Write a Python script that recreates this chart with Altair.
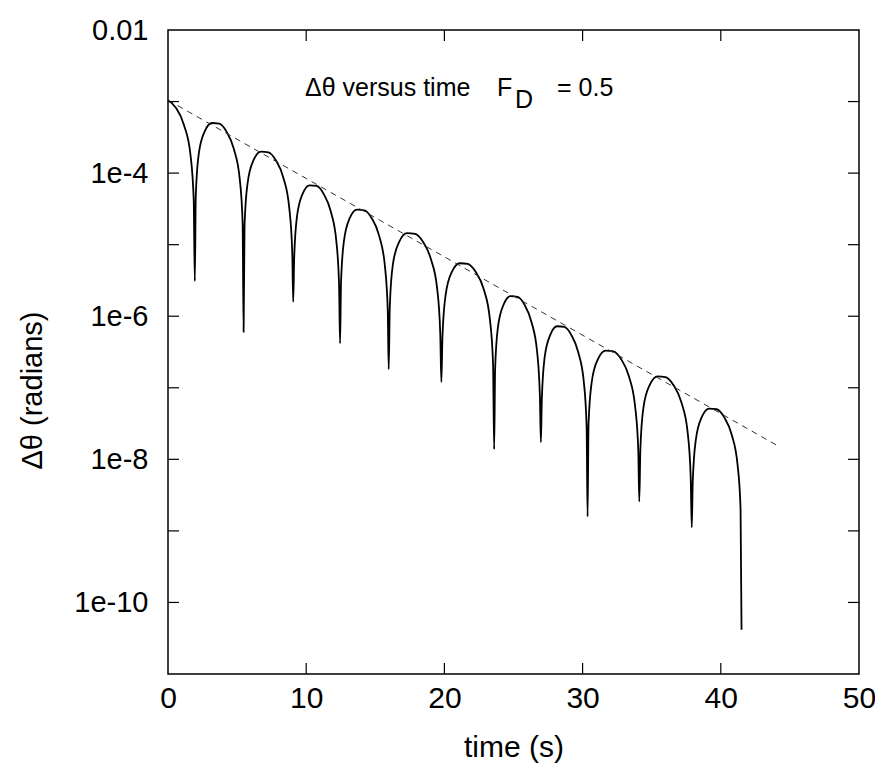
import altair as alt
import pandas as pd

# ---- data (time in s, log10 of |delta theta| in radians)
time_s = [
    0.00, 0.58, 1.16, 1.63, 1.86, 1.94,
    2.01, 2.22, 2.65, 3.18, 3.71, 4.23, 4.76, 5.19, 5.40, 5.47,
    5.54, 5.76, 6.19, 6.73, 7.27, 7.80, 8.34, 8.77, 8.99, 9.06,
    9.13, 9.33, 9.74, 10.25, 10.76, 11.26, 11.77, 12.18, 12.38, 12.45,
    12.52, 12.73, 13.15, 13.68, 14.21, 14.74, 15.27, 15.69, 15.90, 15.97,
    16.05, 16.27, 16.73, 17.30, 17.88, 18.45, 19.02, 19.48, 19.70, 19.78,
    19.86, 20.09, 20.54, 21.12, 21.69, 22.26, 22.84, 23.29, 23.52, 23.60,
    23.67, 23.87, 24.28, 24.78, 25.29, 25.80, 26.30, 26.71, 26.91, 26.98,
    27.05, 27.25, 27.66, 28.16, 28.67, 29.18, 29.68, 30.09, 30.29, 30.36,
    30.43, 30.66, 31.11, 31.67, 32.23, 32.79, 33.35, 33.80, 34.03, 34.10,
    34.18, 34.40, 34.86, 35.43, 36.00, 36.57, 37.14, 37.60, 37.82, 37.90,
    37.97, 38.19, 38.62, 39.16, 39.70, 40.24, 40.78, 41.21, 41.43, 41.50,
]
log10_dtheta = [
    -2.98, -3.09, -3.33, -3.75, -4.37, -5.51,
    -4.32, -3.74, -3.42, -3.30, -3.31, -3.42, -3.66, -4.08, -4.70, -6.22,
    -4.72, -4.14, -3.82, -3.70, -3.71, -3.82, -4.06, -4.48, -5.10, -5.80,
    -5.19, -4.61, -4.29, -4.17, -4.18, -4.29, -4.53, -4.95, -5.57, -6.38,
    -5.53, -4.95, -4.63, -4.51, -4.52, -4.63, -4.87, -5.29, -5.91, -6.74,
    -5.86, -5.28, -4.96, -4.84, -4.85, -4.96, -5.20, -5.62, -6.24, -6.92,
    -6.28, -5.70, -5.38, -5.26, -5.27, -5.38, -5.62, -6.04, -6.66, -7.86,
    -6.74, -6.16, -5.84, -5.72, -5.73, -5.84, -6.08, -6.50, -7.12, -7.76,
    -7.16, -6.58, -6.26, -6.14, -6.15, -6.26, -6.50, -6.92, -7.54, -8.80,
    -7.50, -6.92, -6.60, -6.48, -6.49, -6.60, -6.84, -7.26, -7.88, -8.59,
    -7.86, -7.28, -6.96, -6.84, -6.85, -6.96, -7.20, -7.62, -8.24, -8.95,
    -8.31, -7.73, -7.41, -7.29, -7.30, -7.41, -7.65, -8.07, -8.69, -10.38,
]

# exponential envelope (dashed line)
envelope_t = [0.0, 44.2]
envelope_log10 = [-2.98, -7.82]

# axis ticks
x_label_values = [0, 10, 20, 30, 40, 50]
x_inner_ticks = [10, 20, 30, 40]
y_label_values = [1e-2, 1e-3, 1e-4, 1e-5, 1e-6, 1e-7, 1e-8, 1e-9, 1e-10, 1e-11]
y_inner_ticks = [1e-3, 1e-4, 1e-5, 1e-6, 1e-7, 1e-8, 1e-9, 1e-10]

W, H = 691, 644
FONT = "Liberation Sans"
TICK = 11

curve = pd.DataFrame({
    "t": time_s,
    "v": [10 ** e for e in log10_dtheta],
    "i": list(range(len(time_s))),
})
env = pd.DataFrame({"t": envelope_t, "v": [10 ** e for e in envelope_log10]})
xt = pd.DataFrame({"t": x_inner_ticks})
yt = pd.DataFrame({"v": y_inner_ticks})

xscale = alt.Scale(domain=[0, 50], nice=False, zero=False)
yscale = alt.Scale(type="log", domain=[1e-11, 1e-2], nice=False)

x_axis = alt.Axis(
    values=x_label_values, format="d", ticks=False, tickSize=0, domain=False, grid=False,
    labelFont=FONT, labelFontSize=30, labelColor="black", labelPadding=9, labelFlush=False,
    title="time (s)", titleFont=FONT, titleFontSize=30, titleFontWeight="normal",
    titleColor="black", titleX=W / 2, titleY=73, titleAlign="center", titleBaseline="middle",
)
y_axis = alt.Axis(
    values=y_label_values, ticks=False, tickSize=0, domain=False, grid=False,
    labelExpr="datum.value >= 0.005 ? '0.01' : (round(log(datum.value)/LN10) % 2 == 0 ? '1e' + round(log(datum.value)/LN10) : '')",
    labelFont=FONT, labelFontSize=29, labelColor="black", labelPadding=20,
    title="Δθ (radians)", titleFont=FONT, titleFontSize=29, titleFontWeight="normal",
    titleColor="black", titleAngle=270, titleX=-136, titleY=360,
    titleAlign="center", titleBaseline="middle",
)

X = alt.X("t:Q", scale=xscale, axis=x_axis)
Y = alt.Y("v:Q", scale=yscale, axis=y_axis)

line = alt.Chart(curve).mark_line(color="black", strokeWidth=1.8, interpolate="monotone").encode(
    x=X, y=Y, order="i:Q",
)

dashed = alt.Chart(env).mark_line(color="#333333", strokeWidth=1, strokeDash=[6, 5]).encode(
    x=X, y=Y,
)

left_ticks = alt.Chart(yt).mark_rule(color="black", strokeWidth=1.2).encode(
    y=Y, x=alt.value(0), x2=alt.value(TICK))
right_ticks = alt.Chart(yt).mark_rule(color="black", strokeWidth=1.2).encode(
    y=Y, x=alt.value(W - TICK), x2=alt.value(W))
bottom_ticks = alt.Chart(xt).mark_rule(color="black", strokeWidth=1.2).encode(
    x=X, y=alt.value(H - TICK), y2=alt.value(H))
top_ticks = alt.Chart(xt).mark_rule(color="black", strokeWidth=1.2).encode(
    x=X, y=alt.value(0), y2=alt.value(TICK))

txt_style = dict(font=FONT, fontSize=25, color="black", align="left", baseline="middle")
ann1 = alt.Chart().mark_text(text="Δθ versus time", **txt_style).encode(
    x=alt.value(137), y=alt.value(58))
ann2 = alt.Chart().mark_text(text="F", **txt_style).encode(
    x=alt.value(329), y=alt.value(58))
ann3 = alt.Chart().mark_text(text="D", **txt_style).encode(
    x=alt.value(347), y=alt.value(70))
ann4 = alt.Chart().mark_text(text="= 0.5", **txt_style).encode(
    x=alt.value(389), y=alt.value(58))

chart = alt.layer(
    line, dashed, left_ticks, right_ticks, bottom_ticks, top_ticks, ann1, ann2, ann3, ann4
).properties(
    width=W, height=H,
    padding={"left": 160, "top": 22, "right": 16, "bottom": 91},
    autosize=alt.AutoSizeParams(type="none"),
    background="white",
).configure_view(
    stroke="black", strokeWidth=1.5
)

chart.save("out.html", embed_options={"renderer": "svg", "actions": False})
